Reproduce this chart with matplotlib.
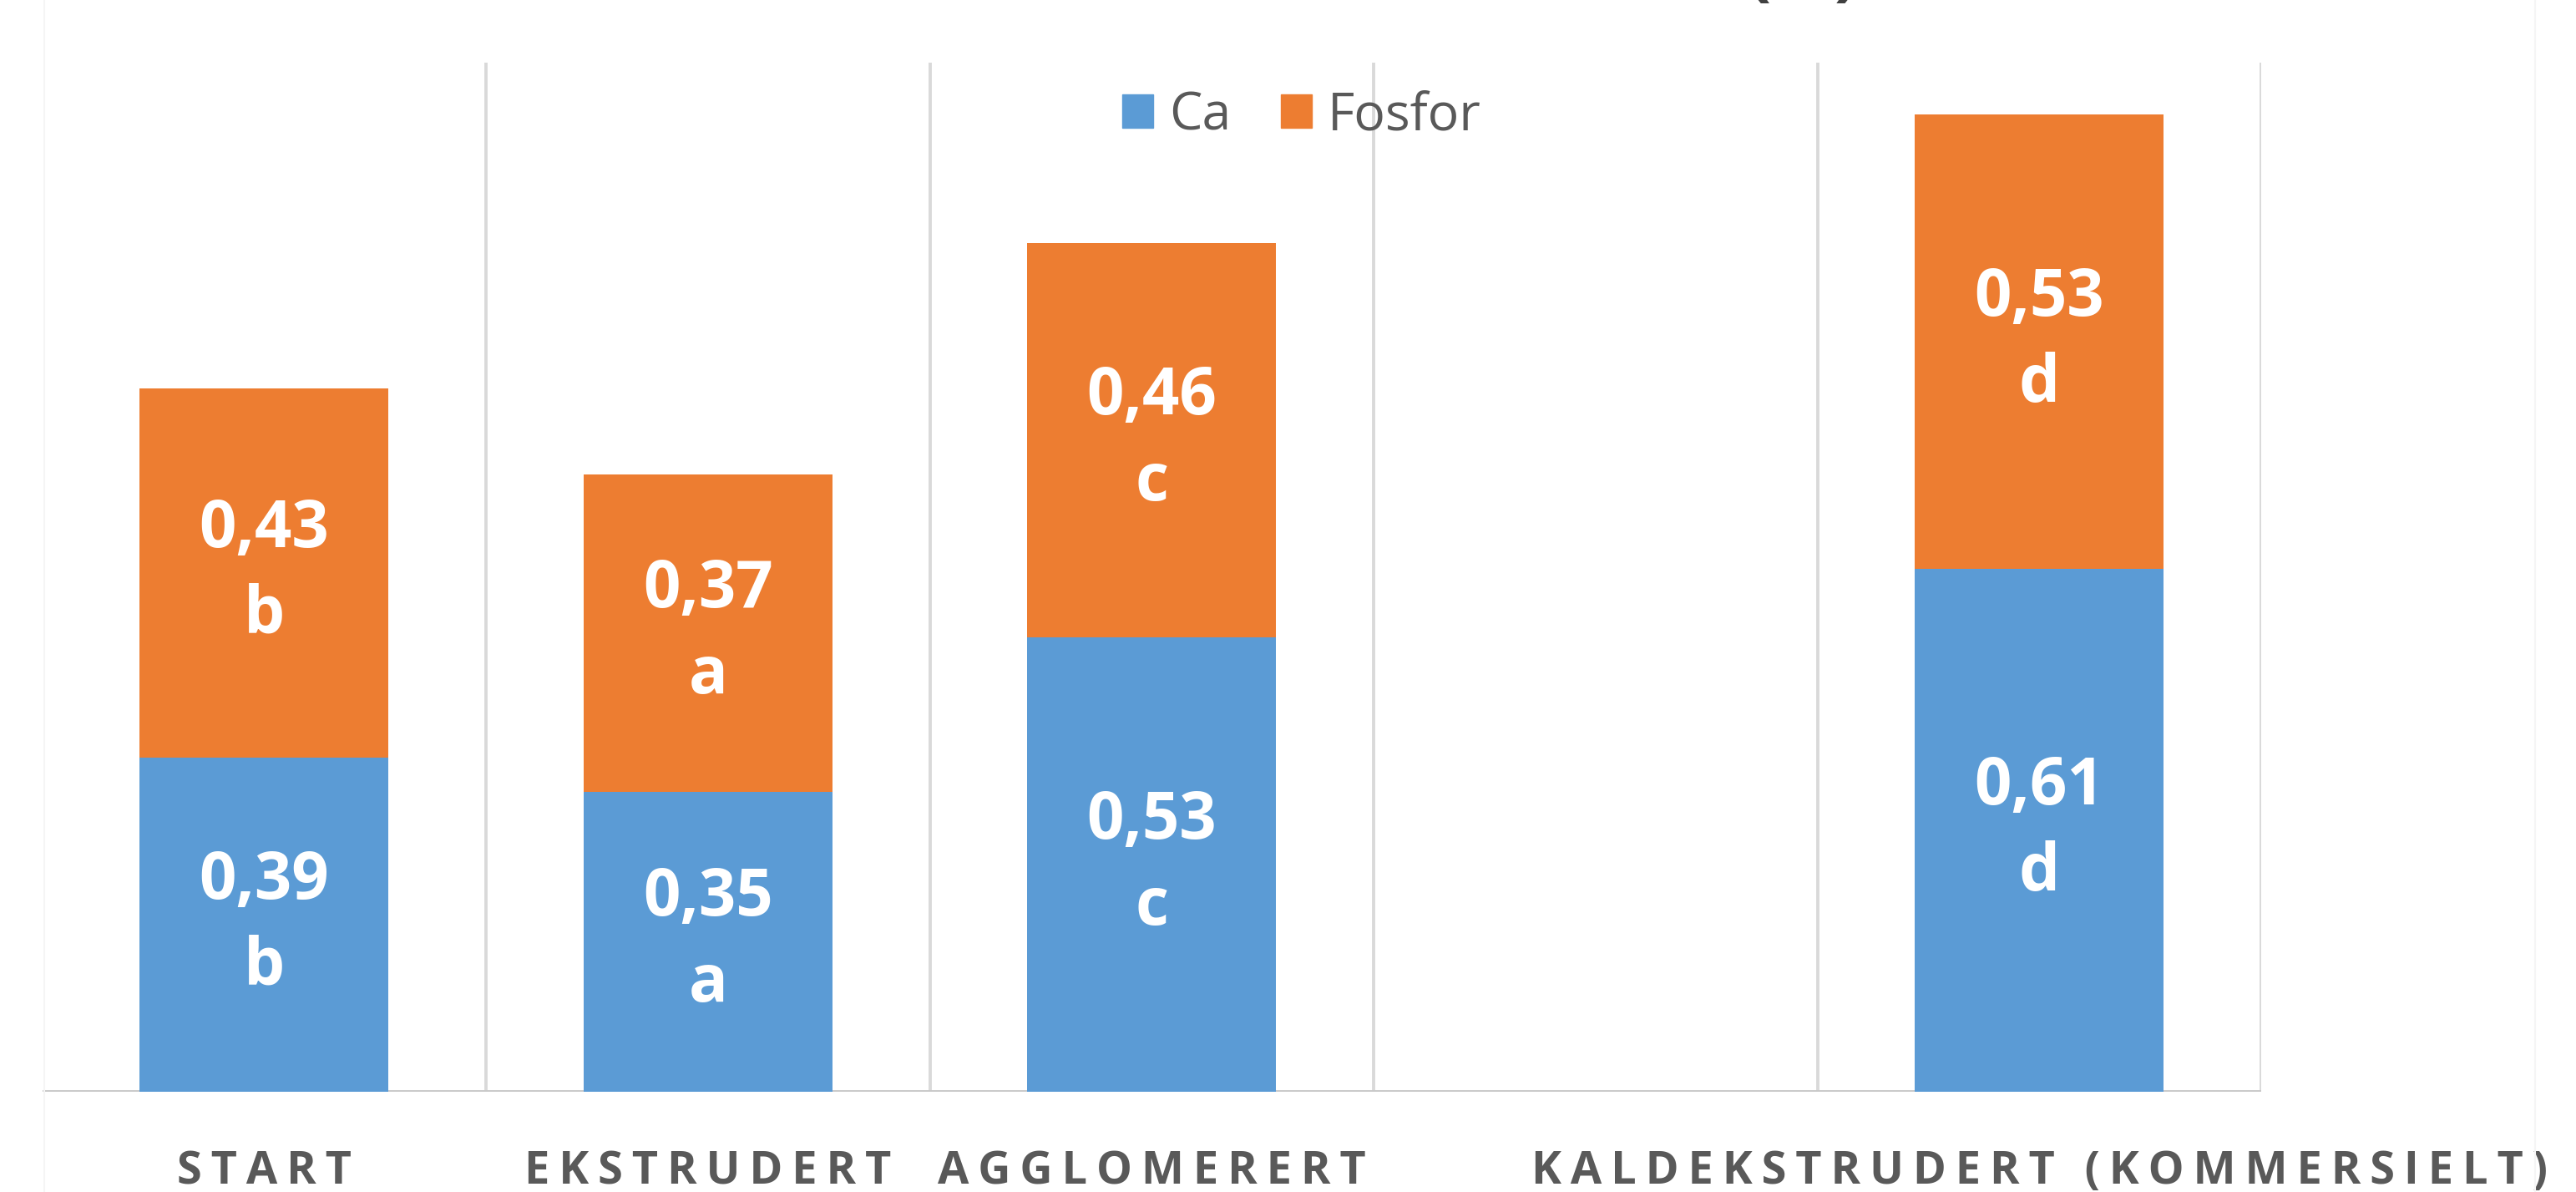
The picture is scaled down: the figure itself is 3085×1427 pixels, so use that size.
import numpy as np
import matplotlib.pyplot as plt
from matplotlib.lines import Line2D
from matplotlib.patches import Patch

categories = ["START", "EKSTRUDERT", "AGGLOMERERT", "", "KALDEKSTRUDERT (KOMMERSIELT)"]
ca = [0.39, 0.35, 0.53, np.nan, 0.61]
fosfor = [0.43, 0.37, 0.46, np.nan, 0.53]
ca_sig = ["b", "a", "c", "", "d"]
fosfor_sig = ["b", "a", "c", "", "d"]
title = "Mineralinnhold (%)"

blue = "#5B9BD5"
orange = "#ED7D31"
grid_col = "#D9D9D9"
text_col = "#595959"
fam = ["Open Sans", "DejaVu Sans"]

W, H = 3085, 1427
fig = plt.figure(figsize=(W / 100, H / 100), dpi=100)
ax = fig.add_axes([50.5 / W, (H - 1307) / H, (2708 - 50.5) / W, 1232 / H])

x = np.arange(len(categories))
ca_arr = np.array(ca)
p_arr = np.array(fosfor)
ax.bar(x, ca_arr, width=0.56, color=blue, label="Ca", zorder=2)
ax.bar(x, p_arr, width=0.56, bottom=ca_arr, color=orange, label="Fosfor", zorder=2)

# value + significance letter, centred in each segment
for i in range(len(x)):
    if np.isnan(ca_arr[i]):
        continue
    ax.text(x[i], ca_arr[i] / 2, "%s\n%s" % (f"{ca[i]:.2f}".replace(".", ","), ca_sig[i]),
            ha="center", va="center", color="white", fontsize=56, fontweight="bold",
            family=fam, linespacing=1.4, zorder=3)
    ax.text(x[i], ca_arr[i] + p_arr[i] / 2,
            "%s\n%s" % (f"{fosfor[i]:.2f}".replace(".", ","), fosfor_sig[i]),
            ha="center", va="center", color="white", fontsize=56, fontweight="bold",
            family=fam, linespacing=1.4, zorder=3)

ax.set_xlim(-0.5, 4.5)
ax.set_ylim(0, 1.2)
for b in np.arange(0.5, 4.6, 1.0):
    ax.axvline(b, color=grid_col, lw=2.8, zorder=1)
ax.axhline(0, color="#C9C9C9", lw=2.8, zorder=1)
for s in ax.spines.values():
    s.set_visible(False)
ax.set_yticks([])
ax.set_xticks(x)
spaced = ["\u2009".join(c) for c in categories]
ax.set_xticklabels(spaced, family=fam, fontsize=39, fontweight="bold", color=text_col)
ax.tick_params(axis="x", length=0, pad=50)

handles = [Patch(color=blue), Patch(color=orange)]
ax.legend(handles, ["Ca", "Fosfor"], loc="center", bbox_to_anchor=(0.5676, 0.948),
          ncol=2, frameon=False, prop={"family": fam, "size": 45},
          labelcolor=text_col, handlelength=0.6, handleheight=0.6,
          handletextpad=0.3, columnspacing=0.95)

fig.text(2225 / W, (H + 9) / H, title, ha="right", va="baseline", fontsize=60,
         fontweight="bold", color="#404040", family=fam)

fig.add_artist(Line2D([53 / W, 53 / W], [0, 1], color="#F5F5F5", lw=1.5))
fig.add_artist(Line2D([3036 / W, 3036 / W], [0, 1], color="#F5F5F5", lw=1.5))

fig.savefig("out.png", dpi=100)
